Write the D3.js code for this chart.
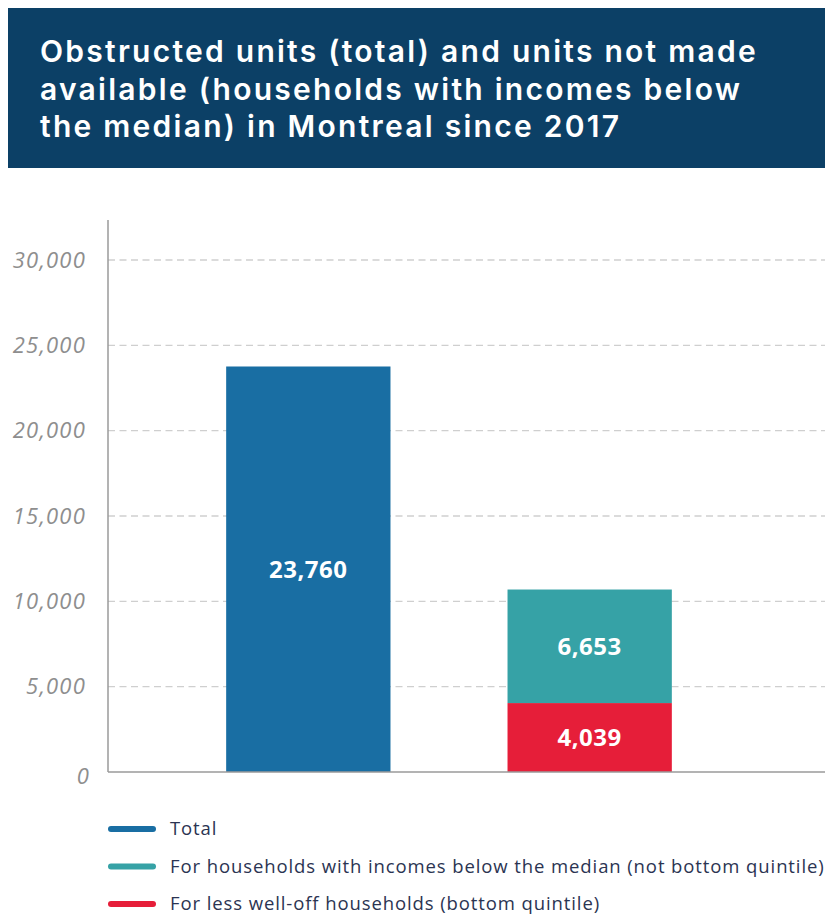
<!DOCTYPE html>
<html>
<head>
<meta charset="utf-8">
<script src="https://cdn.jsdelivr.net/npm/d3@7"></script>
<style>
  body { margin: 0; background: #fff; }
  svg { display: block; }
</style>
</head>
<body>
<div id="chart"></div>
<script>
// ---- Data ----
const categories = ["Obstructed units", "Units not made available"];
const seriesKeys = ["total", "belowMedian", "bottomQuintile"];
const stackOrder = ["total", "bottomQuintile", "belowMedian"];
const seriesLabels = [
  "Total",
  "For households with incomes below the median (not bottom quintile)",
  "For less well-off households (bottom quintile)"
];
const totalValues = [23760, 0];
const belowMedianValues = [0, 6653];
const bottomQuintileValues = [0, 4039];
const yTicks = [0, 5000, 10000, 15000, 20000, 25000, 30000];
const titleLines = [
  "Obstructed units (total) and units not made",
  "available (households with incomes below",
  "the median) in Montreal since 2017"
];

const colors = { total: "#196ea3", belowMedian: "#36a2a6", bottomQuintile: "#e61e39" };

const W = 825, H = 915;
const svg = d3.select("#chart").append("svg").attr("width", W).attr("height", H);

// ---- Title box ----
svg.append("rect").attr("x", 8).attr("y", 8).attr("width", W - 8).attr("height", 160)
  .attr("fill", "#0c4066");
const title = svg.append("g").selectAll("text").data(titleLines).join("text")
  .attr("x", 40).attr("y", (d, i) => 62 + i * 37.5)
  .attr("fill", "#fff")
  .attr("font-family", "Inter, sans-serif")
  .attr("font-weight", 600)
  .attr("font-size", 30)
  .text(d => d);
// stretch the first line's width to the reference (~718px) by letter-spacing
const w0 = title.node().getComputedTextLength();
title.attr("letter-spacing", Math.max(0, (718 - w0) / titleLines[0].length));

// ---- Scales ----
const rows = categories.map((c, i) => ({
  cat: c, total: totalValues[i], belowMedian: belowMedianValues[i], bottomQuintile: bottomQuintileValues[i]
}));
const x = d3.scaleBand().domain(categories).range([108, 790]).paddingInner(0.416).paddingOuter(0.42);
const y = d3.scaleLinear().domain([0, 30000]).range([772, 260]);

// ---- Grid ----
svg.append("g").selectAll("line").data(yTicks.filter(t => t > 0)).join("line")
  .attr("x1", 108).attr("x2", W)
  .attr("y1", d => y(d)).attr("y2", d => y(d))
  .attr("stroke", "#cfcfcf").attr("stroke-width", 1.3)
  .attr("stroke-dasharray", "7,4.5");

// ---- Y axis ----
const yAxis = svg.append("g").attr("transform", "translate(108,0)")
  .call(d3.axisLeft(y).tickValues(yTicks).tickSize(0).tickPadding(22).tickFormat(d3.format(",")));
yAxis.select(".domain").remove();
yAxis.selectAll("text")
  .attr("font-family", "'Open Sans', sans-serif")
  .attr("font-style", "italic")
  .attr("font-size", 22)
  .attr("letter-spacing", 1.2)
  .attr("fill", "#8e8e8e")
  .attr("dy", d => d === 0 ? "0.5em" : "0.32em")
  .attr("dx", d => d === 0 ? 4 : 0);
svg.append("line").attr("x1", 108).attr("x2", 108).attr("y1", 220).attr("y2", 772)
  .attr("stroke", "#9a9a9a").attr("stroke-width", 1.5);

// ---- Bars (stacked) ----
const stacked = d3.stack().keys(stackOrder)(rows);
const layers = svg.append("g").selectAll("g").data(stacked).join("g")
  .attr("fill", d => colors[d.key]);
layers.selectAll("rect").data(d => d.filter(s => s[1] > s[0])).join("rect")
  .attr("x", d => x(d.data.cat))
  .attr("width", x.bandwidth())
  .attr("y", d => y(d[1]))
  .attr("height", d => y(d[0]) - y(d[1]));
layers.selectAll("text").data(d => d.filter(s => s[1] > s[0])).join("text")
  .attr("x", d => x(d.data.cat) + x.bandwidth() / 2)
  .attr("y", d => (y(d[0]) + y(d[1])) / 2)
  .attr("dy", "0.36em")
  .attr("text-anchor", "middle")
  .attr("fill", "#fff")
  .attr("font-family", "'Open Sans', sans-serif")
  .attr("font-weight", 700)
  .attr("font-size", 24)
  .attr("letter-spacing", 0.5)
  .text(d => d3.format(",")(d[1] - d[0]));

// ---- X axis line ----
svg.append("line").attr("x1", 108).attr("x2", W).attr("y1", 772).attr("y2", 772)
  .attr("stroke", "#9a9a9a").attr("stroke-width", 1.5);

// ---- Legend ----
const legend = svg.append("g").selectAll("g").data(seriesKeys).join("g")
  .attr("transform", (d, i) => `translate(0,${829 + i * 37.5})`);
legend.append("line").attr("x1", 111).attr("x2", 153)
  .attr("stroke", d => colors[d]).attr("stroke-width", 6).attr("stroke-linecap", "round");
legend.append("text").attr("x", 170).attr("dy", "0.35em")
  .attr("fill", "#2b3452")
  .attr("font-family", "'Open Sans', sans-serif")
  .attr("font-size", 18.5)
  .attr("letter-spacing", 0.9)
  .text((d, i) => seriesLabels[i]);
</script>
</body>
</html>
